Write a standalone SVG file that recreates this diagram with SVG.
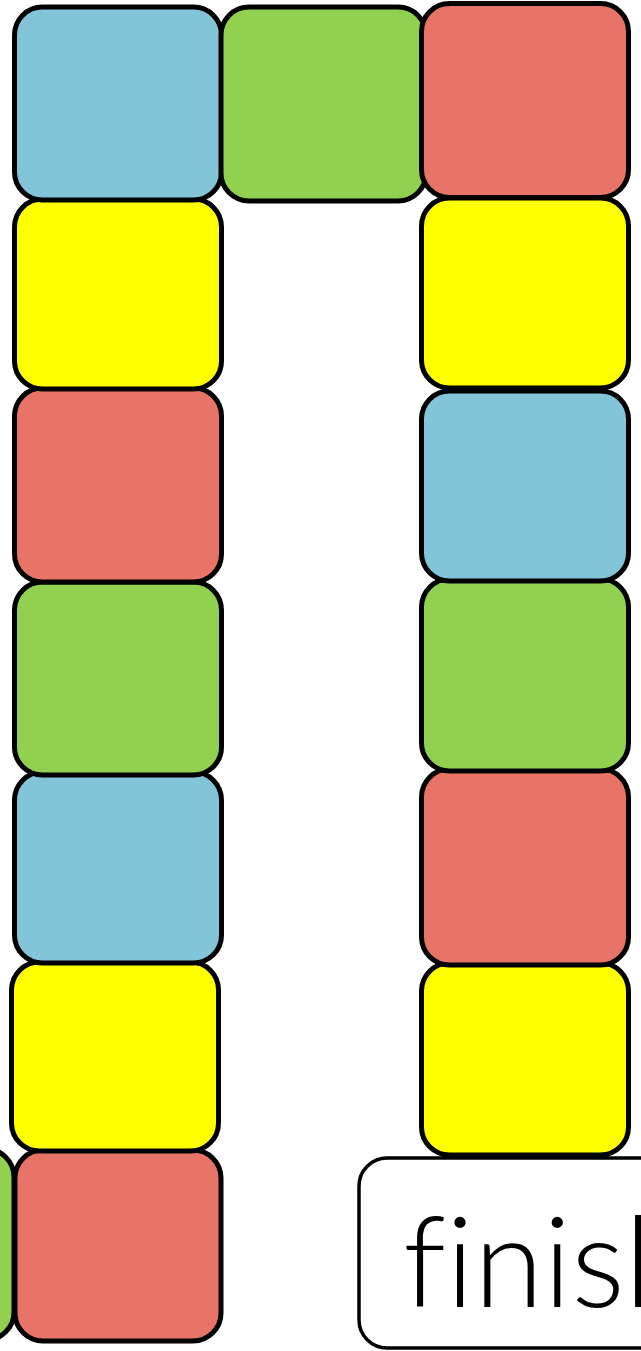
<svg xmlns="http://www.w3.org/2000/svg" width="641" height="1351" viewBox="0 0 641 1351">
<style>
.t{stroke:#000;stroke-width:5}
.b{fill:#82C5D8}.g{fill:#92D050}.r{fill:#E87468}.y{fill:#FFFF00}
.fin{fill:#fff;stroke:#000;stroke-width:3.5}
.lbl{font-family:Lato,"Open Sans",sans-serif;font-size:126px;font-weight:300;fill:#000;font-variant-ligatures:none;font-feature-settings:"liga" 0}
</style>
<rect width="641" height="1351" fill="#fff"/>
<g id="left-col">
<g id="l7g"><rect class="t g" x="-195" y="1149" width="209" height="191" rx="28"/></g>
<g id="l7"><rect class="t r" x="15" y="1150" width="206" height="191" rx="28"/></g>
<g id="l6"><rect class="t y" x="11.5" y="962" width="207" height="189" rx="28"/></g>
<g id="l5"><rect class="t b" x="14.5" y="772" width="207" height="191" rx="28"/></g>
<g id="l4"><rect class="t g" x="14.5" y="582" width="207" height="193" rx="28"/></g>
<g id="l3"><rect class="t r" x="14.5" y="388" width="207" height="194" rx="28"/></g>
<g id="l2"><rect class="t y" x="14.5" y="199" width="207" height="190" rx="28"/></g>
<g id="l1"><rect class="t b" x="14.5" y="7" width="207" height="193" rx="28"/></g>
</g>
<g id="top-mid"><rect class="t g" x="221" y="7" width="205" height="194" rx="28"/></g>
<g id="right-col">
<g id="r6"><rect class="t y" x="421.5" y="963" width="207" height="192" rx="28"/></g>
<g id="r5"><rect class="t r" x="421.5" y="769" width="207" height="196" rx="28"/></g>
<g id="r4"><rect class="t g" x="421.5" y="579" width="207" height="192" rx="28"/></g>
<g id="r3"><rect class="t b" x="421.5" y="391" width="207" height="190" rx="28"/></g>
<g id="r2"><rect class="t y" x="421.5" y="198" width="207" height="190" rx="28"/></g>
<g id="r1"><rect class="t r" x="421.5" y="3.5" width="207" height="194" rx="28"/></g>
</g>
<g id="finish">
<rect class="fin" x="359" y="1158" width="320" height="190" rx="28"/>
<text class="lbl" x="403" y="1307">finish</text>
</g>
<g id="connectors"/>
</svg>
